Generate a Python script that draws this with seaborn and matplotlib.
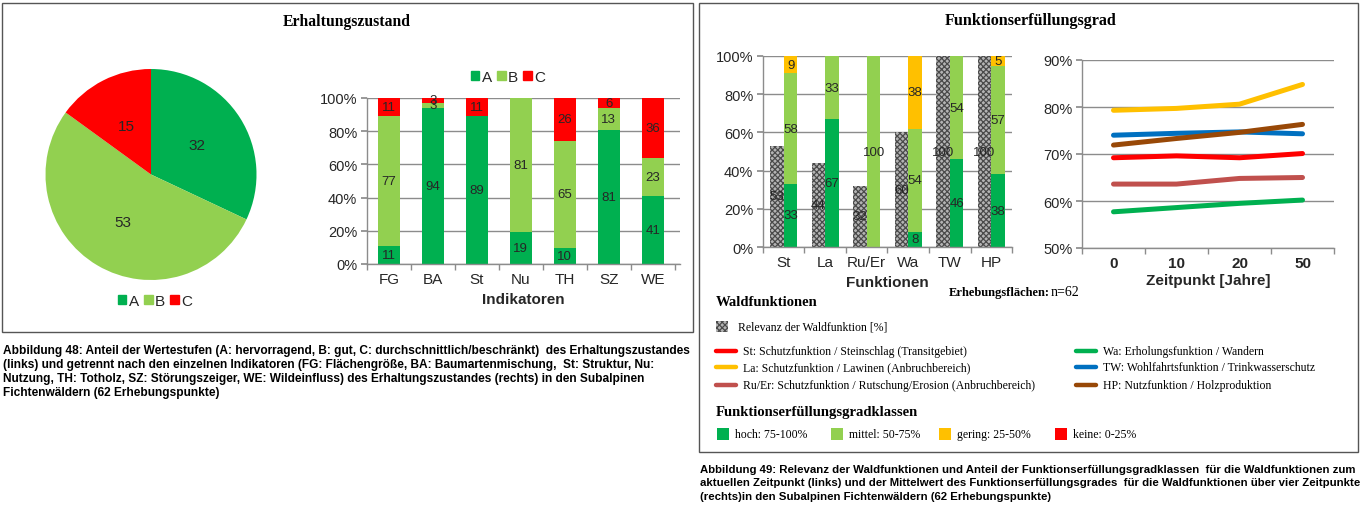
import matplotlib
matplotlib.use("Agg")
import matplotlib.pyplot as plt
from matplotlib.patches import Rectangle
from matplotlib.lines import Line2D
from matplotlib.ticker import FuncFormatter, FixedLocator
import numpy as np
import pandas as pd
import seaborn as sns

# --- data -------------------------------------------------------------
# pie: Erhaltungszustand overall
stufen = ["A", "B", "C"]
stufen_anteil = [32, 53, 15]

# stacked bars: Erhaltungszustand per Indikator
indikatoren = ["FG", "BA", "St", "Nu", "TH", "SZ", "WE"]
ind_a = [11, 94, 89, 19, 10, 81, 41]
ind_b = [77, 3, 0, 81, 65, 13, 23]
ind_c = [11, 3, 11, 0, 26, 6, 36]

# Funktionserfuellung per Waldfunktion
funktionen = ["St", "La", "Ru/Er", "Wa", "TW", "HP"]
relevanz = [53, 44, 32, 60, 100, 100]
kl_hoch = [33, 67, 0, 8, 46, 38]
kl_mittel = [58, 33, 100, 54, 54, 57]
kl_gering = [9, 0, 0, 38, 0, 5]
kl_keine = [0, 0, 0, 0, 0, 0]

# mean Funktionserfuellungsgrad over time
zeitpunkte = ["0", "10", "20", "50"]
feg_st = [69.2, 69.6, 69.2, 70.1]
feg_la = [79.3, 79.7, 80.6, 84.8]
feg_ruer = [63.6, 63.6, 64.8, 65.0]
feg_wa = [57.7, 58.6, 59.5, 60.2]
feg_tw = [74.0, 74.4, 74.7, 74.3]
feg_hp = [71.9, 73.3, 74.6, 76.3]

legend_lines = [
    "St: Schutzfunktion / Steinschlag (Transitgebiet)",
    "La: Schutzfunktion / Lawinen (Anbruchbereich)",
    "Ru/Er: Schutzfunktion / Rutschung/Erosion (Anbruchbereich)",
    "Wa: Erholungsfunktion / Wandern",
    "TW: Wohlfahrtsfunktion / Trinkwasserschutz",
    "HP: Nutzfunktion / Holzproduktion",
]
klassen_labels = ["hoch: 75-100%", "mittel: 50-75%", "gering: 25-50%", "keine: 0-25%"]

# --- style ------------------------------------------------------------
GREEN = "#00B050"
LGREEN = "#92D050"
RED = "#FF0000"
YELLOW = "#FFC000"
RUER = "#C0504D"
BLUE = "#0070C0"
BROWN = "#984807"
GRID = "#8c8c8c"
TXT = "#262626"
HATCH_FC = "#b4b4b4"
HATCH_EC = "#4a4a4a"

sns.set_theme(style="white")
plt.rcParams["font.family"] = ["Liberation Sans", "DejaVu Sans"]
plt.rcParams["hatch.linewidth"] = 0.9
SERIF = ["Liberation Serif", "DejaVu Serif"]

W, H = 1364, 506
fig = plt.figure(figsize=(W / 100, H / 100), dpi=100)


def rect(x0, y0, x1, y1):
    return [x0 / W, 1 - y1 / H, (x1 - x0) / W, (y1 - y0) / H]


def fx(x):
    return x / W


def fy(y):
    return 1 - y / H


def excel_axes(ax, ncat, yticks, fmt):
    ax.set_xlim(-0.5, ncat - 0.5)
    for s in ["top", "right"]:
        ax.spines[s].set_visible(False)
    for s in ["left", "bottom"]:
        ax.spines[s].set_color(GRID)
        ax.spines[s].set_linewidth(1)
    ax.set_yticks(yticks)
    ax.yaxis.set_major_formatter(FuncFormatter(fmt))
    ax.yaxis.grid(True, color=GRID, linewidth=1)
    ax.set_axisbelow(True)
    ax.set_xticks(np.arange(ncat))
    ax.xaxis.set_minor_locator(FixedLocator(np.arange(ncat + 1) - 0.5))
    ax.tick_params(axis="x", which="major", length=0, pad=6, labelsize=11, colors=TXT)
    ax.tick_params(axis="x", which="minor", length=4, color=GRID, direction="out", bottom=True)
    ax.tick_params(axis="y", length=4, color=GRID, direction="out", left=True,
                   labelsize=10.5, colors=TXT, pad=3)


# frames
fig.add_artist(Rectangle((fx(2), fy(333)), (693 - 2) / W, (333 - 4) / H,
                         transform=fig.transFigure, fill=False, edgecolor="#555555", lw=1))
fig.add_artist(Rectangle((fx(699), fy(453)), (1358 - 699) / W, (453 - 4) / H,
                         transform=fig.transFigure, fill=False, edgecolor="#555555", lw=1))

fig.text(fx(347), fy(22), "Erhaltungszustand", family=SERIF, weight="bold",
         fontsize=11.3, ha="center", va="center", color="black")
fig.text(fx(1031), fy(21), "Funktionserfüllungsgrad", family=SERIF, weight="bold",
         fontsize=11.6, ha="center", va="center", color="black")

# --- pie ----------------------------------------------------------------
ax_pie = fig.add_axes(rect(45, 70, 257, 281))
ax_pie.pie(stufen_anteil, colors=[GREEN, LGREEN, RED], startangle=90, counterclock=False,
           autopct=lambda p: f"{p:.0f}", pctdistance=0.52,
           textprops=dict(fontsize=11, color=TXT), wedgeprops=dict(linewidth=0))
ax_pie.set_xlim(-1, 1)
ax_pie.set_ylim(-1, 1)
ax_pie.set_aspect("equal")
pie_handles = [Rectangle((0, 0), 1, 1, color=c) for c in [GREEN, LGREEN, RED]]
fig.legend(pie_handles, stufen, loc="center", bbox_to_anchor=(fx(155), fy(302)), ncol=3,
           frameon=False, fontsize=11, handlelength=0.55, handleheight=0.55,
           handletextpad=0.15, columnspacing=0.35, labelcolor=TXT)

# --- stacked bars Indikatoren ------------------------------------------
ax1 = fig.add_axes(rect(367, 99, 680, 265))
x1 = np.arange(len(indikatoren))
raw = np.array([ind_a, ind_b, ind_c], dtype=float)
share = raw / raw.sum(axis=0) * 100
bottom = np.zeros(len(indikatoren))
for vals, sh, col, name in zip(raw, share, [GREEN, LGREEN, RED], stufen):
    bars = ax1.bar(x1, sh, 0.5, bottom=bottom, color=col, label=name, linewidth=0)
    ax1.bar_label(bars, labels=[f"{v:.0f}" if v > 0 else "" for v in vals],
                  label_type="center", fontsize=9.5, color=TXT)
    bottom += sh
excel_axes(ax1, len(indikatoren), np.arange(0, 101, 20), lambda v, p: f"{v:.0f}%")
ax1.set_xlim(-0.5, 6.62)
ax1.set_ylim(0, 100)
ax1.set_xticklabels(indikatoren)
ax1.set_xlabel("Indikatoren", fontsize=11, weight="bold", color=TXT, labelpad=4)
fig.legend(pie_handles, stufen, loc="center", bbox_to_anchor=(fx(508), fy(78)), ncol=3,
           frameon=False, fontsize=11, handlelength=0.55, handleheight=0.55,
           handletextpad=0.15, columnspacing=0.35, labelcolor=TXT)

# --- Relevanz + Funktionserfuellungsgradklassen ------------------------
ax2 = fig.add_axes(rect(763, 57, 1012, 248))
x2 = np.arange(len(funktionen))
bw = 0.33
rel = ax2.bar(x2 - bw / 2, relevanz, bw, color=HATCH_FC, edgecolor=HATCH_EC,
              hatch="xxxxxx", linewidth=0)
ax2.bar_label(rel, labels=[str(v) for v in relevanz], label_type="center",
              fontsize=9.5, color=TXT)
bottom = np.zeros(len(funktionen))
for vals, col in zip([kl_hoch, kl_mittel, kl_gering, kl_keine], [GREEN, LGREEN, YELLOW, RED]):
    vals = np.array(vals, dtype=float)
    bars = ax2.bar(x2 + bw / 2, vals, bw, bottom=bottom, color=col, linewidth=0)
    ax2.bar_label(bars, labels=[f"{v:.0f}" if v > 0 else "" for v in vals],
                  label_type="center", fontsize=9.5, color=TXT)
    bottom += vals
excel_axes(ax2, len(funktionen), np.arange(0, 101, 20), lambda v, p: f"{v:.0f}%")
ax2.set_ylim(0, 100)
ax2.set_xticklabels(funktionen)
ax2.set_xlabel("Funktionen", fontsize=11, weight="bold", color=TXT, labelpad=4)

# --- line chart ---------------------------------------------------------
ax3 = fig.add_axes(rect(1082, 61, 1334, 249))
line_names = ["St", "La", "Ru/Er", "Wa", "TW", "HP"]
line_vals = [feg_st, feg_la, feg_ruer, feg_wa, feg_tw, feg_hp]
line_cols = [RED, YELLOW, RUER, GREEN, BLUE, BROWN]
df = pd.DataFrame({
    "pos": np.tile(np.arange(len(zeitpunkte)), len(line_names)),
    "wert": np.concatenate(line_vals),
    "funktion": np.repeat(line_names, len(zeitpunkte)),
})
sns.lineplot(data=df, x="pos", y="wert", hue="funktion", hue_order=line_names,
             palette=dict(zip(line_names, line_cols)), linewidth=3.6, legend=False,
             ax=ax3, solid_capstyle="round")
excel_axes(ax3, len(zeitpunkte), np.arange(50, 91, 10), lambda v, p: f"{v:.0f}%")
ax3.set_ylim(50, 90)
ax3.set_xticklabels(zeitpunkte, weight="bold")
ax3.set_xlabel("Zeitpunkt [Jahre]", fontsize=11, weight="bold", color=TXT, labelpad=2)
ax3.set_ylabel("")

fig.text(fx(949), fy(293), "Erhebungsflächen:", family=SERIF, weight="bold",
         fontsize=9, ha="left", va="center", color="black")
fig.text(fx(1051), fy(293), "n=62", family=SERIF, fontsize=10,
         ha="left", va="center", color="black")

# --- legend block -------------------------------------------------------
fig.text(fx(716), fy(303), "Waldfunktionen", family=SERIF, weight="bold",
         fontsize=10.5, ha="left", va="center", color="black")
fig.add_artist(Rectangle((fx(716), fy(333)), 12 / W, 11 / H, transform=fig.transFigure,
                         facecolor=HATCH_FC, edgecolor=HATCH_EC, hatch="xxxxxx", lw=0))
fig.text(fx(738), fy(328), "Relevanz der Waldfunktion [%]", family=SERIF,
         fontsize=8.5, ha="left", va="center", color="black")
rows_y = [352, 368, 386]
for i, (lab, col) in enumerate(zip(legend_lines, line_cols)):
    lx = 716 if i < 3 else 1076
    ly = rows_y[i % 3]
    fig.add_artist(Line2D([fx(lx), fx(lx + 20)], [fy(ly), fy(ly)], transform=fig.transFigure,
                          color=col, linewidth=3.2))
    fig.text(fx(lx + 27), fy(ly), lab, family=SERIF, fontsize=8.5, ha="left",
             va="center", color="black")

fig.text(fx(716), fy(413), "Funktionserfüllungsgradklassen", family=SERIF, weight="bold",
         fontsize=10.5, ha="left", va="center", color="black")
sq_x = [717, 831, 939, 1055]
for sx, lab, col in zip(sq_x, klassen_labels, [GREEN, LGREEN, YELLOW, RED]):
    fig.add_artist(Rectangle((fx(sx), fy(441)), 12 / W, 12 / H, transform=fig.transFigure,
                             facecolor=col, lw=0))
    fig.text(fx(sx + 18), fy(435), lab, family=SERIF, fontsize=8.5, ha="left",
             va="center", color="black")

# --- captions -----------------------------------------------------------
cap48 = [
    "Abbildung 48: Anteil der Wertestufen (A: hervorragend, B: gut, C: durchschnittlich/beschränkt)  des Erhaltungszustandes",
    "(links) und getrennt nach den einzelnen Indikatoren (FG: Flächengröße, BA: Baumartenmischung,  St: Struktur, Nu:",
    "Nutzung, TH: Totholz, SZ: Störungszeiger, WE: Wildeinfluss) des Erhaltungszustandes (rechts) in den Subalpinen",
    "Fichtenwäldern (62 Erhebungspunkte)",
]
for i, line in enumerate(cap48):
    fig.text(fx(3), fy(351 + 14 * i), line, weight="bold", fontsize=8.55,
             ha="left", va="center", color="black")
cap49 = [
    "Abbildung 49: Relevanz der Waldfunktionen und Anteil der Funktionserfüllungsgradklassen  für die Waldfunktionen zum",
    "aktuellen Zeitpunkt (links) und der Mittelwert des Funktionserfüllungsgrades  für die Waldfunktionen über vier Zeitpunkte",
    "(rechts)in den Subalpinen Fichtenwäldern (62 Erhebungspunkte)",
]
for i, line in enumerate(cap49):
    fig.text(fx(700), fy(470 + 13.5 * i), line, weight="bold", fontsize=8.2,
             ha="left", va="center", color="black")

fig.savefig("out.png", dpi=100)
